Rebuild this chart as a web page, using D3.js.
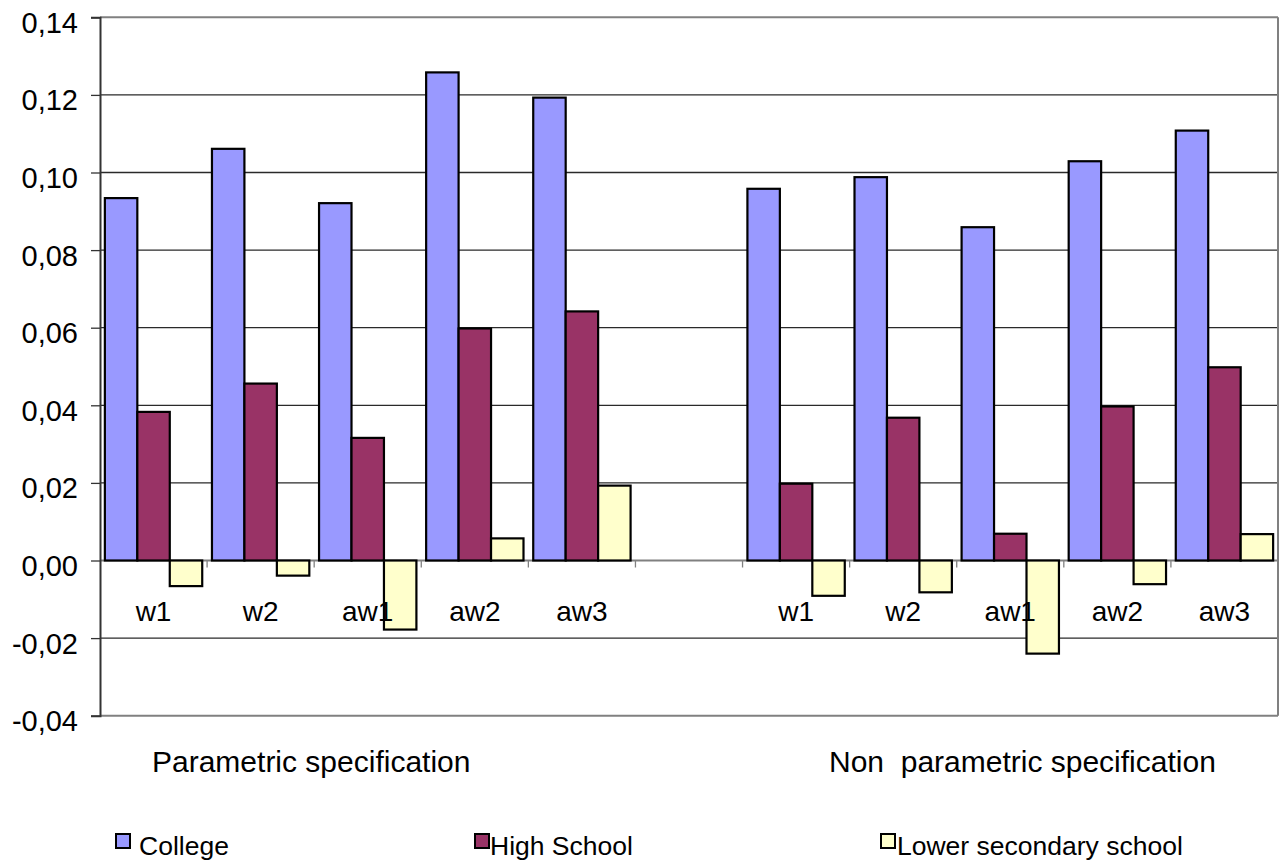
<!DOCTYPE html>
<html>
<head>
<meta charset="utf-8">
<script src="https://cdn.jsdelivr.net/npm/d3@7"></script>
<style>
  html, body { margin: 0; padding: 0; background: #fff; }
  svg { display: block; font-family: "Liberation Sans", Arial, sans-serif; }
</style>
</head>
<body>
<svg id="chart" width="1285" height="863"></svg>
<script>
// Returns to education by specification and weighting scheme
const categories = ["w1", "w2", "aw1", "aw2", "aw3", "", "w1", "w2", "aw1", "aw2", "aw3"];
const seriesNames = ["College", "High School", "Lower secondary school"];
const college = [0.0934, 0.1061, 0.0921, 0.1258, 0.1193, null, 0.0958, 0.0988, 0.0859, 0.1029, 0.1108];
const highSchool = [0.0383, 0.0456, 0.0316, 0.0598, 0.0642, null, 0.0198, 0.0368, 0.0069, 0.0397, 0.0498];
const lowerSecondary = [-0.0066, -0.0039, -0.0178, 0.0057, 0.0193, null, -0.0091, -0.0082, -0.0240, -0.0061, 0.0068];
const yTicks = [-0.04, -0.02, 0, 0.02, 0.04, 0.06, 0.08, 0.10, 0.12, 0.14];
const groupLabels = ["Parametric specification", "Non  parametric specification"];
const colors = ["#9999FF", "#993366", "#FFFFCC"];

const svg = d3.select("#chart");
const plot = { left: 100, right: 1278, top: 17.3, bottom: 715.7 };

const slots = categories.map((c, i) => i);
const x = d3.scaleBand().domain(slots).range([plot.left, plot.right]).paddingInner(0).paddingOuter(0);
const y = d3.scaleLinear().domain([-0.04, 0.14]).range([plot.bottom, plot.top]);

const bw = x.bandwidth();
const gapW = bw * 0.3 / 3.3;
const xs = d3.scaleBand().domain(d3.range(3)).range([gapW / 2, bw - gapW / 2]).padding(0);

// horizontal gridlines
svg.append("g")
  .selectAll("line")
  .data(yTicks.filter(t => t !== 0 && t !== -0.04 && t !== 0.14))
  .join("line")
  .attr("x1", plot.left).attr("x2", plot.right)
  .attr("y1", d => y(d)).attr("y2", d => y(d))
  .attr("stroke", "#2a2a2a").attr("stroke-width", 1.3);

// plot frame: top, right and bottom
svg.append("line").attr("x1", plot.left).attr("x2", plot.right)
  .attr("y1", y(0.14)).attr("y2", y(0.14)).attr("stroke", "#808080").attr("stroke-width", 2);
svg.append("line").attr("x1", plot.right).attr("x2", plot.right)
  .attr("y1", y(0.14)).attr("y2", y(-0.04)).attr("stroke", "#808080").attr("stroke-width", 2);
svg.append("line").attr("x1", plot.left).attr("x2", plot.right)
  .attr("y1", y(-0.04)).attr("y2", y(-0.04)).attr("stroke", "#808080").attr("stroke-width", 2);

// zero line with category tick marks
svg.append("line").attr("x1", plot.left).attr("x2", plot.right)
  .attr("y1", y(0)).attr("y2", y(0)).attr("stroke", "#808080").attr("stroke-width", 2);
svg.append("g")
  .selectAll("line")
  .data(slots.slice(1).concat([slots.length]))
  .join("line")
  .attr("x1", d => d < slots.length ? x(d) : plot.right)
  .attr("x2", d => d < slots.length ? x(d) : plot.right)
  .attr("y1", y(0)).attr("y2", y(0) + 7)
  .attr("stroke", "#808080").attr("stroke-width", 1.3);

// bars
const seriesData = [college, highSchool, lowerSecondary];
seriesData.forEach((vals, s) => {
  svg.append("g")
    .selectAll("rect")
    .data(vals.map((v, i) => ({ i, v })).filter(d => d.v !== null))
    .join("rect")
    .attr("x", d => x(d.i) + xs(s))
    .attr("width", xs.bandwidth())
    .attr("y", d => y(Math.max(0, d.v)))
    .attr("height", d => Math.abs(y(d.v) - y(0)))
    .attr("fill", colors[s])
    .attr("stroke", "#000")
    .attr("stroke-width", 2.2);
});

// y axis
const yAxis = d3.axisLeft(y).tickValues(yTicks).tickSize(9).tickPadding(13)
  .tickFormat(d => d3.format(".2f")(d).replace(".", ",").replace("\u2212", "-"));
const gy = svg.append("g").attr("transform", `translate(${plot.left},0)`).call(yAxis);
gy.select(".domain").attr("stroke", "#333").attr("stroke-width", 2);
gy.selectAll(".tick line").attr("stroke", "#333").attr("stroke-width", 1.3);
gy.selectAll(".tick text")
  .attr("font-size", 29).attr("fill", "#000")
  .attr("dy", "0.52em");

// category labels
svg.append("g")
  .selectAll("text")
  .data(categories.map((c, i) => ({ c, i })).filter(d => d.c))
  .join("text")
  .attr("x", d => x(d.i) + bw / 2)
  .attr("y", 621)
  .attr("text-anchor", "middle")
  .attr("font-size", 28)
  .text(d => d.c);

// specification labels
svg.append("text").attr("x", 152).attr("y", 772).attr("font-size", 30)
  .style("white-space", "pre").text(groupLabels[0]);
svg.append("text").attr("x", 829).attr("y", 772).attr("font-size", 30)
  .style("white-space", "pre").text(groupLabels[1]);

// legend
const legendBoxX = [116, 475, 881];
const legendTextX = [139, 490, 897];
const legend = svg.append("g").selectAll("g").data(seriesNames).join("g");
legend.append("rect")
  .attr("x", (d, i) => legendBoxX[i]).attr("y", 834)
  .attr("width", 14).attr("height", 14)
  .attr("fill", (d, i) => colors[i]).attr("stroke", "#000").attr("stroke-width", 2);
legend.append("text")
  .attr("x", (d, i) => legendTextX[i]).attr("y", 855)
  .attr("font-size", 26.5).text(d => d);
</script>
</body>
</html>
